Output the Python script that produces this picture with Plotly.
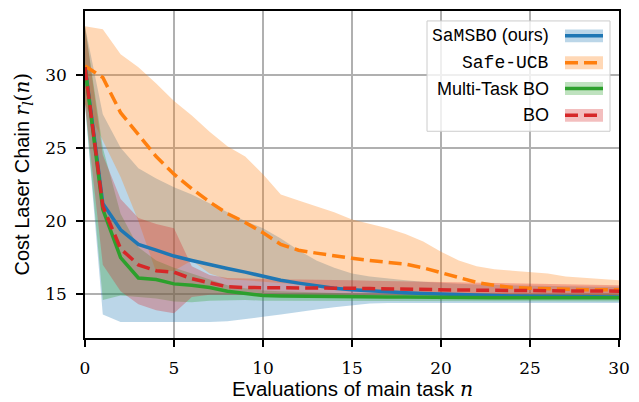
import plotly.graph_objects as go

# ---------------- data ----------------
n = list(range(31))

samsbo_mean = [30.6, 21.2, 19.4, 18.4, 18.0, 17.6, 17.3, 17.0, 16.75, 16.5, 16.2, 15.95, 15.75, 15.55, 15.4, 15.3,
               15.22, 15.15, 15.1, 15.05, 15.0, 14.95, 14.92, 14.9, 14.87, 14.85, 14.84, 14.82, 14.8, 14.8, 14.8]
samsbo_hi = [33.3, 27.3, 25.0, 23.6, 22.9, 22.3, 21.8, 21.2, 20.6, 20.0, 19.5, 18.8, 18.0, 17.3, 16.8, 16.4,
             16.2, 16.05, 15.95, 15.85, 15.75, 15.7, 15.65, 15.62, 15.6, 15.58, 15.56, 15.54, 15.52, 15.5, 15.5]
samsbo_lo = [28.0, 13.6, 13.1, 13.1, 13.1, 13.1, 13.1, 13.1, 13.15, 13.3, 13.45, 13.6, 13.75, 13.95, 14.1, 14.25,
             14.35, 14.4, 14.45, 14.45, 14.45, 14.45, 14.45, 14.45, 14.42, 14.4, 14.4, 14.4, 14.4, 14.4, 14.4]

safeucb_mean = [30.6, 29.8, 27.4, 25.9, 24.4, 23.2, 22.2, 21.3, 20.5, 19.9, 19.2, 18.4, 18.0, 17.8, 17.6, 17.45,
                17.3, 17.2, 17.05, 16.8, 16.45, 16.1, 15.8, 15.6, 15.45, 15.4, 15.35, 15.35, 15.3, 15.3, 15.3]
safeucb_hi = [33.3, 33.1, 31.4, 30.5, 29.4, 28.2, 27.2, 26.1, 25.1, 24.4, 23.2, 21.8, 21.4, 21.0, 20.6, 20.1,
              19.8, 19.5, 19.1, 18.6, 17.9, 17.3, 16.9, 16.7, 16.6, 16.5, 16.4, 16.2, 16.1, 16.0, 15.95]
safeucb_lo = [28.0, 25.5, 23.0, 20.0, 16.5, 16.6, 17.3, 16.4, 16.0, 15.95, 15.9, 15.8, 15.7, 15.6, 15.5, 15.4,
              15.3, 15.2, 15.1, 15.0, 15.0, 14.9, 14.9, 14.8, 14.8, 14.8, 14.7, 14.7, 14.7, 14.7, 14.7]

mtbo_mean = [30.5, 20.8, 17.5, 16.1, 16.0, 15.7, 15.6, 15.45, 15.2, 15.05, 14.9, 14.87, 14.85, 14.85, 14.83, 14.82,
             14.8, 14.8, 14.8, 14.78, 14.77, 14.76, 14.75, 14.75, 14.75, 14.75, 14.75, 14.75, 14.75, 14.75, 14.75]
mtbo_hi = [33.3, 25.0, 20.5, 18.2, 17.3, 16.8, 16.4, 16.0, 15.6, 15.4, 15.25, 15.2, 15.15, 15.1, 15.1, 15.05,
           15.05, 15.0, 15.0, 15.0, 15.0, 15.0, 15.0, 15.0, 15.0, 15.0, 15.0, 15.0, 15.0, 15.0, 15.0]
mtbo_lo = [28.0, 14.6, 14.9, 14.8, 14.7, 14.5, 14.45, 14.55, 14.6, 14.6, 14.55, 14.55, 14.55, 14.55, 14.5, 14.5,
           14.5, 14.5, 14.5, 14.5, 14.5, 14.5, 14.5, 14.5, 14.5, 14.5, 14.5, 14.5, 14.5, 14.5, 14.5]

bo_mean = [30.5, 21.0, 18.1, 17.0, 16.6, 16.5, 16.05, 15.75, 15.5, 15.45, 15.45, 15.42, 15.4, 15.4, 15.4, 15.4,
           15.38, 15.35, 15.33, 15.3, 15.3, 15.28, 15.27, 15.25, 15.25, 15.25, 15.25, 15.22, 15.22, 15.2, 15.2]
bo_hi = [33.3, 24.5, 21.5, 20.2, 19.8, 19.5, 16.9, 16.3, 16.1, 16.05, 16.0, 16.0, 16.0, 16.0, 15.98, 15.95,
         15.92, 15.9, 15.88, 15.85, 15.82, 15.8, 15.78, 15.76, 15.75, 15.72, 15.7, 15.68, 15.65, 15.62, 15.6]
bo_lo = [28.0, 17.0, 15.2, 14.3, 13.9, 13.7, 14.8, 14.95, 14.95, 14.95, 14.9, 14.9, 14.9, 14.9, 14.88, 14.88,
         14.87, 14.87, 14.86, 14.86, 14.85, 14.85, 14.85, 14.85, 14.85, 14.85, 14.85, 14.85, 14.85, 14.85, 14.85]

x_ticks = [0, 5, 10, 15, 20, 25, 30]
y_ticks = [15, 20, 25, 30]

MONO = "Liberation Mono"
SANS = "Liberation Sans"
SERIF = "DejaVu Serif"

labels = [f"<span style='font-family:{MONO}'>SaMSBO</span> (ours)",
          f"<span style='font-family:{MONO}'>Safe-UCB</span>",
          "Multi-Task BO",
          "BO"]
colors = ["#1f77b4", "#ff7f0e", "#2ca02c", "#d62728"]
fills = ["rgba(31,119,180,0.3)", "rgba(255,127,14,0.3)", "rgba(44,160,44,0.3)", "rgba(214,39,40,0.3)"]
dashes = ["solid", "13px,6px", "solid", "13px,6px"]
means = [samsbo_mean, safeucb_mean, mtbo_mean, bo_mean]
his = [samsbo_hi, safeucb_hi, mtbo_hi, bo_hi]
los = [samsbo_lo, safeucb_lo, mtbo_lo, bo_lo]

fig = go.Figure()
for hi, lo, fc in zip(his, los, fills):
    fig.add_trace(go.Scatter(x=n + n[::-1], y=hi + lo[::-1], fill="toself", fillcolor=fc,
                             line=dict(width=0), mode="lines", hoverinfo="skip", showlegend=False))
for m, c, d in zip(means, colors, dashes):
    fig.add_trace(go.Scatter(x=n, y=m, mode="lines", line=dict(color=c, width=3.5, dash=d),
                             showlegend=False))

# ---------------- layout ----------------
W, H = 639, 402
L, R, T, B = 85, 20, 9, 64
PW, PH = W - L - R, H - T - B


def px(xp):
    return (xp - L) / PW


def py(yp):
    return (H - B - yp) / PH


shapes = []
annotations = []

# legend box
bx0, bx1, by0, by1 = px(427), px(610), py(19), py(130)
shapes.append(dict(type="rect", xref="paper", yref="paper", x0=bx0, x1=bx1, y0=by1, y1=by0,
                   line=dict(color="#cccccc", width=1), fillcolor="rgba(255,255,255,0.8)", layer="above"))
rows = [34, 61, 87, 114]
for lab, c, fc, d, yr in zip(labels, colors, fills, dashes, rows):
    shapes.append(dict(type="rect", xref="paper", yref="paper", x0=px(565), x1=px(603),
                       y0=py(yr + 6.5), y1=py(yr - 6.5), line=dict(width=0), fillcolor=fc, layer="above"))
    shapes.append(dict(type="line", xref="paper", yref="paper", x0=px(565), x1=px(603),
                       y0=py(yr), y1=py(yr), line=dict(color=c, width=3.5, dash=d), layer="above"))
    annotations.append(dict(xref="paper", yref="paper", x=px(551), y=py(yr), xanchor="right",
                            yanchor="middle", text=lab, showarrow=False,
                            font=dict(family=SANS, size=18, color="black")))

# axis titles
annotations.append(dict(xref="paper", yref="paper", x=0.5, y=0, yshift=-51, xanchor="center",
                        yanchor="middle", showarrow=False,
                        text=f"Evaluations of main task <span style='font-family:{SERIF}'><i>n</i></span>",
                        font=dict(family=SANS, size=20.5, color="black")))
annotations.append(dict(xref="paper", yref="paper", x=0, y=0.5, xshift=-63, xanchor="center",
                        yanchor="middle", showarrow=False, textangle=-90,
                        text=(f"Cost Laser Chain <span style='font-family:{SERIF}'><i>r</i>"
                              f"<sub><i>l</i></sub>(<i>n</i>)</span>"),
                        font=dict(family=SANS, size=20, color="black")))

fig.update_layout(
    width=W, height=H,
    margin=dict(l=L, r=R, t=T, b=B, pad=0),
    paper_bgcolor="white", plot_bgcolor="white",
    shapes=shapes, annotations=annotations,
    xaxis=dict(range=[0, 30], tickvals=x_ticks, ticktext=[str(v) for v in x_ticks],
               showgrid=True, gridcolor="#b0b0b0", gridwidth=1.6, zeroline=False,
               showline=True, linecolor="black", linewidth=1.5, mirror=True,
               ticks="outside", ticklen=7, tickwidth=1.5, tickcolor="black", ticklabelstandoff=7,
               tickfont=dict(family=SERIF, size=17, color="black")),
    yaxis=dict(range=[12.0, 34.35], tickvals=y_ticks, ticktext=[str(v) for v in y_ticks],
               showgrid=True, gridcolor="#b0b0b0", gridwidth=1.6, zeroline=False,
               showline=True, linecolor="black", linewidth=1.5, mirror=True,
               ticks="outside", ticklen=7, tickwidth=1.5, tickcolor="black", ticklabelstandoff=6,
               tickfont=dict(family=SERIF, size=17, color="black")),
)

fig.write_html("out.html")
